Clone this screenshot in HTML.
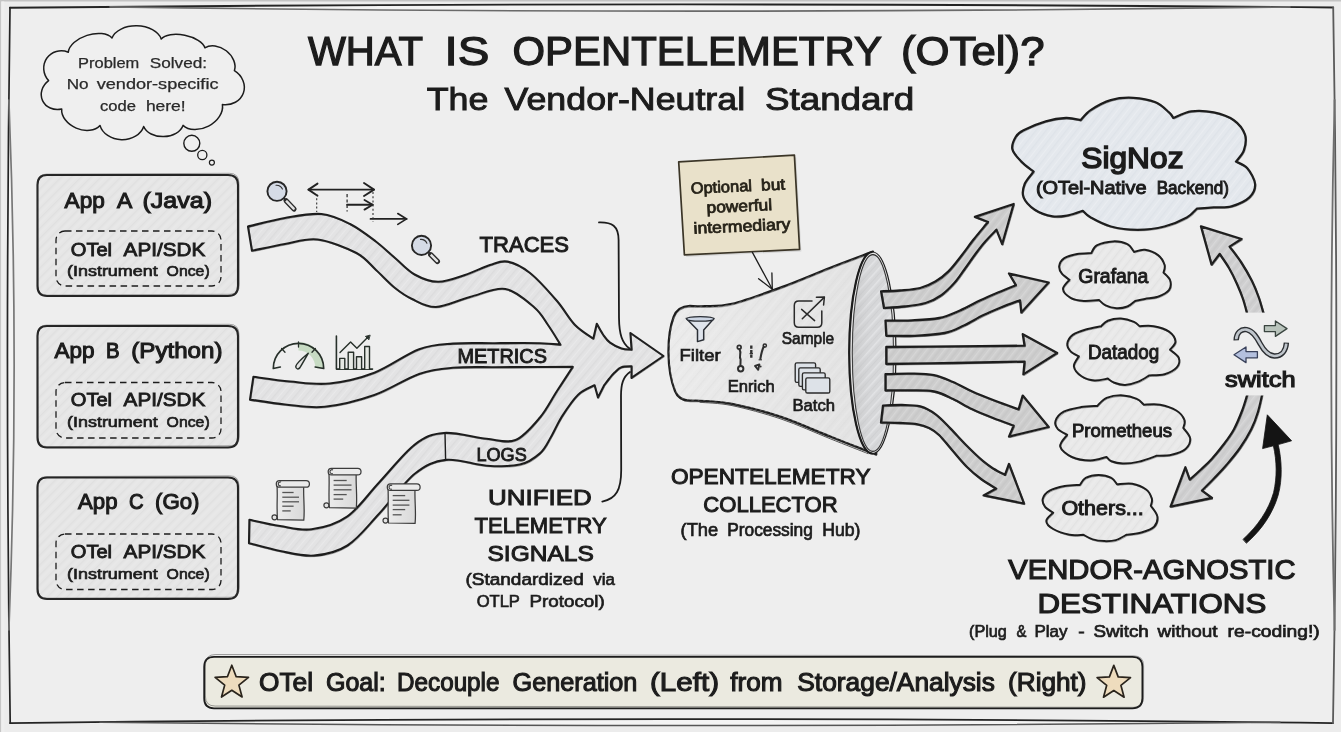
<!DOCTYPE html>
<html lang="en"><head><meta charset="utf-8"><title>What is OpenTelemetry (OTel)?</title>
<style>
html,body{margin:0;padding:0;background:#ececec;}
body{width:1341px;height:732px;overflow:hidden;}
svg{display:block;font-family:"Liberation Sans","DejaVu Sans",sans-serif;filter:blur(0.35px);}
</style></head><body>
<svg width="1341" height="732" viewBox="0 0 1341 732">
<defs>
<pattern id="hLight" width="7" height="7" patternUnits="userSpaceOnUse" patternTransform="rotate(-45)">
<rect width="7" height="7" fill="#e6e6e6"/><rect y="0" width="7" height="1.2" fill="#e0e0e0"/><rect y="3.6" width="7" height="0.9" fill="#ebebeb"/>
</pattern>
<pattern id="hRib" width="8" height="8" patternUnits="userSpaceOnUse" patternTransform="rotate(-50)">
<rect width="8" height="8" fill="#e3e3e4"/><rect y="0" width="8" height="1.4" fill="#dcdcdd"/><rect y="4" width="8" height="1" fill="#e9e9ea"/>
</pattern>
<linearGradient id="gHorn" x1="0" y1="0" x2="1" y2="0"><stop offset="0" stop-color="#ebebeb"/><stop offset="0.5" stop-color="#e6e6e6"/><stop offset="1" stop-color="#e2e2e2"/></linearGradient>
<pattern id="hHorn" width="9" height="9" patternUnits="userSpaceOnUse" patternTransform="rotate(-50)">
<rect y="0" width="9" height="1.2" fill="#d8d8d8" opacity="0.3"/><rect y="4.5" width="9" height="1" fill="#f2f2f2" opacity="0.45"/>
</pattern>
<pattern id="hMouth" width="8" height="8" patternUnits="userSpaceOnUse" patternTransform="rotate(-48)">
<rect width="8" height="8" fill="#d6d7d9"/><rect y="0" width="8" height="1.6" fill="#e3e4e6"/><rect y="4" width="8" height="1" fill="#cfd0d2"/>
</pattern>
<pattern id="hArr" width="7" height="7" patternUnits="userSpaceOnUse" patternTransform="rotate(-52)">
<rect width="7" height="7" fill="#cdcdcd"/><rect y="0" width="7" height="1.4" fill="#d6d6d6"/><rect y="3.5" width="7" height="1.1" fill="#c5c5c5"/>
</pattern>
<pattern id="hArr2" width="7" height="7" patternUnits="userSpaceOnUse" patternTransform="rotate(-52)">
<rect width="7" height="7" fill="#cfcfd0"/><rect y="0" width="7" height="1.4" fill="#d8d8d9"/><rect y="3.5" width="7" height="1.1" fill="#c7c7c8"/>
</pattern>
<pattern id="hSig" width="8" height="8" patternUnits="userSpaceOnUse" patternTransform="rotate(-52)">
<rect width="8" height="8" fill="#e4e8ed"/><rect y="0" width="8" height="1.3" fill="#dee3e9"/><rect y="4" width="8" height="1.1" fill="#eaedf1"/>
</pattern>
<pattern id="hCloud" width="7" height="7" patternUnits="userSpaceOnUse" patternTransform="rotate(-52)">
<rect width="7" height="7" fill="#e9e9e9"/><rect y="0" width="7" height="1.2" fill="#e2e2e2"/><rect y="3.5" width="7" height="1" fill="#eeeeee"/>
</pattern>
<linearGradient id="gScroll" x1="0" y1="0" x2="1" y2="0"><stop offset="0" stop-color="#ebebeb"/><stop offset="1" stop-color="#d9d9d9"/></linearGradient>
<linearGradient id="gMouth" x1="0" y1="0" x2="1" y2="0"><stop offset="0" stop-color="#a0a0a0" stop-opacity="0.3"/><stop offset="0.5" stop-color="#cfcfcf" stop-opacity="0"/><stop offset="1" stop-color="#ffffff" stop-opacity="0.2"/></linearGradient>
</defs>
<rect x="0" y="0" width="1341" height="732" fill="#ececec"/>
<rect x="0" y="0" width="1341" height="1.5" fill="#c4c4c4"/>
<rect x="0" y="0" width="1.3" height="732" fill="#c6c6c6"/>
<rect x="1.3" y="1.5" width="3" height="730.5" fill="#efefef"/>
<path d="M10 7.7Q670 1.2 1333.2 7.5Q1339.6 365 1333 723.1Q670 728 10.2 723.1Q4.8 365 10 7.7Z" fill="#eeeeee"/>
<path d="M10 7.7Q670 1.2 1333.2 7.5L1290 6.9Q698 15.4 110 6.9Z" fill="#f3f3f3"/>
<path d="M10 723.1Q670 715.1 1333 723.1L1280 722.2Q690 728.8 100 722.2Z" fill="#f3f3f3"/>
<path d="M10 7.7Q4.8 365 10.2 723.1L8.9 630Q19.4 365 8.9 100Z" fill="#f3f3f3"/>
<path d="M1333.2 7.5Q1339.6 365 1333 723.1L1334.6 630Q1328 365 1334.6 100Z" fill="#f5f5f5"/>
<path d="M10 7.7Q670 1.2 1333.2 7.5" fill="none" stroke="#242424" stroke-width="1.9" stroke-linejoin="round" stroke-linecap="round"/>
<path d="M110 6.9Q698 15.4 1290 6.9" fill="none" stroke="#6a6a6a" stroke-width="1.6" stroke-linejoin="round" stroke-linecap="round"/>
<path d="M10 723.1Q670 715.1 1333 723.1" fill="none" stroke="#242424" stroke-width="1.8" stroke-linejoin="round" stroke-linecap="round"/>
<path d="M100 722.2Q690 728.8 1280 722.2" fill="none" stroke="#555" stroke-width="1.5" stroke-linejoin="round" stroke-linecap="round"/>
<path d="M10 7.7Q4.8 365 10.2 723.1" fill="none" stroke="#242424" stroke-width="1.7" stroke-linejoin="round" stroke-linecap="round"/>
<path d="M8.9 100Q19.4 365 8.9 630" fill="none" stroke="#777" stroke-width="1.7" stroke-linejoin="round" stroke-linecap="round"/>
<path d="M1333.2 7.5Q1339.6 365 1333 723.1" fill="none" stroke="#5a5a5a" stroke-width="1.8" stroke-linejoin="round" stroke-linecap="round"/>
<path d="M1334.6 100Q1328 365 1334.6 630" fill="none" stroke="#6e6e6e" stroke-width="1.8" stroke-linejoin="round" stroke-linecap="round"/>
<path d="M47 175 H228 Q238 175 238 185 V286 Q238 296 228 296 H47 Q37.5 296 37.5 286 V185 Q37.5 175 47 175Z" fill="url(#hLight)" stroke="#242424" stroke-width="2.1" stroke-linejoin="round" stroke-linecap="round"/>
<path d="M46 175 H229 Q238.6 175 238.6 185 V286 Q238.6 296 229 296 H46 Q37 296 37 286 V185 Q37 175 46 175Z" fill="none" stroke="#333" stroke-width="0.8" opacity="0.5" transform="translate(0.6 -1.3) rotate(-0.25 137 235.5)" stroke-linejoin="round"/>
<rect x="56" y="231" width="165" height="55" rx="9" fill="none" stroke="#1c1c1c" stroke-width="1.3" stroke-dasharray="6.5 4.5"/>
<text y="207.5" font-size="22.5" font-weight="normal" fill="#1c1c1c" stroke="#1c1c1c" stroke-width="1.1"><tspan x="64.6" textLength="40.2" lengthAdjust="spacingAndGlyphs">App</tspan> <tspan x="117" textLength="14" lengthAdjust="spacingAndGlyphs">A</tspan> <tspan x="142.5" textLength="69.6" lengthAdjust="spacingAndGlyphs">(Java)</tspan></text>
<text y="255.5" font-size="19" font-weight="normal" fill="#1c1c1c" stroke="#1c1c1c" stroke-width="0.9"><tspan x="70.8" textLength="41.3" lengthAdjust="spacingAndGlyphs">OTel</tspan> <tspan x="123.6" textLength="81.6" lengthAdjust="spacingAndGlyphs">API/SDK</tspan></text>
<text y="275.8" font-size="15.5" font-weight="normal" fill="#1c1c1c" stroke="#1c1c1c" stroke-width="0.7"><tspan x="67" textLength="90.7" lengthAdjust="spacingAndGlyphs">(Instrument</tspan> <tspan x="166.6" textLength="43.1" lengthAdjust="spacingAndGlyphs">Once)</tspan></text>
<path d="M47 326 H228 Q238 326 238 336 V437.5 Q238 447.5 228 447.5 H47 Q37.5 447.5 37.5 437.5 V336 Q37.5 326 47 326Z" fill="url(#hLight)" stroke="#242424" stroke-width="2.1" stroke-linejoin="round" stroke-linecap="round"/>
<path d="M46 326 H229 Q238.6 326 238.6 336 V437.5 Q238.6 447.5 229 447.5 H46 Q37 447.5 37 437.5 V336 Q37 326 46 326Z" fill="none" stroke="#333" stroke-width="0.8" opacity="0.5" transform="translate(0.6 -1.3) rotate(-0.25 137 386.75)" stroke-linejoin="round"/>
<rect x="56" y="382.5" width="165" height="55.5" rx="9" fill="none" stroke="#1c1c1c" stroke-width="1.3" stroke-dasharray="6.5 4.5"/>
<text y="357.5" font-size="22.5" font-weight="normal" fill="#1c1c1c" stroke="#1c1c1c" stroke-width="1.1"><tspan x="54.5" textLength="40" lengthAdjust="spacingAndGlyphs">App</tspan> <tspan x="106" textLength="13.6" lengthAdjust="spacingAndGlyphs">B</tspan> <tspan x="131.3" textLength="91.2" lengthAdjust="spacingAndGlyphs">(Python)</tspan></text>
<text y="406" font-size="19" font-weight="normal" fill="#1c1c1c" stroke="#1c1c1c" stroke-width="0.9"><tspan x="70.8" textLength="41.3" lengthAdjust="spacingAndGlyphs">OTel</tspan> <tspan x="123.6" textLength="81.6" lengthAdjust="spacingAndGlyphs">API/SDK</tspan></text>
<text y="427" font-size="15.5" font-weight="normal" fill="#1c1c1c" stroke="#1c1c1c" stroke-width="0.7"><tspan x="67" textLength="90.7" lengthAdjust="spacingAndGlyphs">(Instrument</tspan> <tspan x="166.6" textLength="43.1" lengthAdjust="spacingAndGlyphs">Once)</tspan></text>
<path d="M47 477.5 H228 Q238 477.5 238 487.5 V589 Q238 599 228 599 H47 Q37.5 599 37.5 589 V487.5 Q37.5 477.5 47 477.5Z" fill="url(#hLight)" stroke="#242424" stroke-width="2.1" stroke-linejoin="round" stroke-linecap="round"/>
<path d="M46 477.5 H229 Q238.6 477.5 238.6 487.5 V589 Q238.6 599 229 599 H46 Q37 599 37 589 V487.5 Q37 477.5 46 477.5Z" fill="none" stroke="#333" stroke-width="0.8" opacity="0.5" transform="translate(0.6 -1.3) rotate(-0.25 137 538.25)" stroke-linejoin="round"/>
<rect x="56" y="534" width="165" height="55.5" rx="9" fill="none" stroke="#1c1c1c" stroke-width="1.3" stroke-dasharray="6.5 4.5"/>
<text y="509" font-size="22.5" font-weight="normal" fill="#1c1c1c" stroke="#1c1c1c" stroke-width="1.1"><tspan x="78" textLength="39.5" lengthAdjust="spacingAndGlyphs">App</tspan> <tspan x="129" textLength="14.6" lengthAdjust="spacingAndGlyphs">C</tspan> <tspan x="155" textLength="44.5" lengthAdjust="spacingAndGlyphs">(Go)</tspan></text>
<text y="558" font-size="19" font-weight="normal" fill="#1c1c1c" stroke="#1c1c1c" stroke-width="0.9"><tspan x="70.8" textLength="41.3" lengthAdjust="spacingAndGlyphs">OTel</tspan> <tspan x="123.6" textLength="81.6" lengthAdjust="spacingAndGlyphs">API/SDK</tspan></text>
<text y="579" font-size="15.5" font-weight="normal" fill="#1c1c1c" stroke="#1c1c1c" stroke-width="0.7"><tspan x="67" textLength="90.7" lengthAdjust="spacingAndGlyphs">(Instrument</tspan> <tspan x="166.6" textLength="43.1" lengthAdjust="spacingAndGlyphs">Once)</tspan></text>
<path d="M68.3 52.2A23.7 13.6 -18 0 1 112 38A25.3 16.5 1.3 0 1 161.2 39A23 11.1 11.3 0 1 204.9 47.8A19.3 14.4 37.9 0 1 234.4 70.7A18.5 20.8 109.5 0 1 222.4 104.6A22.9 16.3 152.2 0 1 183 125.4A20.3 14.2 178.4 0 1 143.7 126.5A22.5 18 -178.6 0 1 100 125.4A21.4 15.4 -156.8 0 1 61.7 109A16.1 18.2 -114.8 0 1 48.6 80.6A17.8 18.7 -55.3 0 1 68.3 52.2Z" fill="#efefef" stroke="#1c1c1c" stroke-width="1.5" stroke-linejoin="round" stroke-linecap="round"/>
<circle cx="191.8" cy="143.3" r="8" fill="#efefef" stroke="#1c1c1c" stroke-width="1.4"/>
<circle cx="202.3" cy="155" r="4.6" fill="#efefef" stroke="#1c1c1c" stroke-width="1.3"/>
<circle cx="211.9" cy="162.6" r="2.5" fill="#efefef" stroke="#1c1c1c" stroke-width="1.2"/>
<text y="67.5" font-size="14" font-weight="normal" fill="#2a2a2a" stroke="#2a2a2a" stroke-width="0.25"><tspan x="78.1" textLength="61.2" lengthAdjust="spacingAndGlyphs">Problem</tspan> <tspan x="149.8" textLength="57.3" lengthAdjust="spacingAndGlyphs">Solved:</tspan></text>
<text y="89.3" font-size="14" font-weight="normal" fill="#2a2a2a" stroke="#2a2a2a" stroke-width="0.25"><tspan x="66.7" textLength="21.9" lengthAdjust="spacingAndGlyphs">No</tspan> <tspan x="96.7" textLength="121.8" lengthAdjust="spacingAndGlyphs">vendor-specific</tspan></text>
<text y="111.2" font-size="14" font-weight="normal" fill="#2a2a2a" stroke="#2a2a2a" stroke-width="0.25"><tspan x="100" textLength="36" lengthAdjust="spacingAndGlyphs">code</tspan> <tspan x="145.9" textLength="39.8" lengthAdjust="spacingAndGlyphs">here!</tspan></text>
<text y="65.2" font-size="41" font-weight="normal" fill="#1c1c1c" stroke="#1c1c1c" stroke-width="1.25"><tspan x="307.9" textLength="114.5" lengthAdjust="spacingAndGlyphs">WHAT</tspan> <tspan x="444.5" textLength="44.8" lengthAdjust="spacingAndGlyphs">IS</tspan> <tspan x="512.5" textLength="368.6" lengthAdjust="spacingAndGlyphs">OPENTELEMETRY</tspan> <tspan x="901" textLength="143.5" lengthAdjust="spacingAndGlyphs">(OTel)?</tspan></text>
<text y="110" font-size="32" font-weight="normal" fill="#1c1c1c" stroke="#1c1c1c" stroke-width="0.95"><tspan x="426.7" textLength="61.7" lengthAdjust="spacingAndGlyphs">The</tspan> <tspan x="504.6" textLength="240.5" lengthAdjust="spacingAndGlyphs">Vendor-Neutral</tspan> <tspan x="764.9" textLength="149.4" lengthAdjust="spacingAndGlyphs">Standard</tspan></text>
<path d="M599 222.4C612 222 618.5 226 618.6 240L619 318C619.2 334 622 343 629.5 348.5" fill="none" stroke="#1c1c1c" stroke-width="1.8" stroke-linejoin="round" stroke-linecap="round"/>
<path d="M630 372C623 377 621 384 621 396L621.2 470C621.2 490 616 499 602.3 501.6" fill="none" stroke="#1c1c1c" stroke-width="1.8" stroke-linejoin="round" stroke-linecap="round"/>
<path d="M248 226.5C254.2 225.1 272.8 220.1 285 218C297.2 215.9 310.7 213 321.5 214C332.3 215 340.9 219.4 350 224C359.1 228.6 368.3 235.8 375.8 241.5C383.3 247.2 388.5 252.5 395 258C401.5 263.5 407.4 270.5 414.6 274.5C421.8 278.5 429.6 281.7 438 281.8C446.4 281.9 456.3 277.8 465 275C473.7 272.2 482.9 267.2 490 265C497.1 262.8 500.8 260.3 507.5 261.6C514.2 262.9 521.8 266.5 530 273C538.2 279.5 549.3 292.1 556.8 300.8C564.3 309.5 568.9 318.7 575 325C581.1 331.3 590.2 336.4 593.3 338.7L596.8 323.7L596.8 323.7C597.8 325.5 600.8 331.4 603 334.5C605.2 337.6 606.9 340.3 610 342.6C613.1 344.9 617.9 347.2 621.5 348.4C625.1 349.6 629.9 349.4 631.6 349.6L630.4 333L663.5 356L631.5 377.8L631.6 366.3C629.9 366.4 624.3 366.1 621.5 367.2C618.7 368.2 616.7 370.6 614.6 372.6C612.5 374.6 610.7 376.9 609 379C607.3 381.1 605 384.2 604.2 385.2L598 397.5L594.6 385.2C591.9 386.8 583.7 389.5 578.2 394.7C572.8 399.9 566.4 409.6 561.9 416.6C557.4 423.7 554.6 430.9 551 437C547.4 443.1 545.2 448.8 540 453.4C534.8 458 528.9 462.6 520 464.6C511.1 466.7 498.8 466.5 486.5 465.7C474.2 464.9 457.9 458.5 446 459.9C434.1 461.2 426 464.8 414.8 473.8C403.6 482.8 390.1 502.1 378.9 514C367.7 526 358.3 538.6 347.5 545.5C336.7 552.4 325.2 554.7 314 555.6C302.8 556.5 290.8 553.1 280 551C269.2 548.9 254.2 544.5 249 543.2L249.4 519.7C254.5 520.8 269.6 524.4 280 526C290.4 527.6 300.4 530.9 311.7 529.3C322.9 527.7 336.3 524.1 347.5 516.3C358.7 508.5 367.7 494.6 378.9 482.7C390.1 470.8 404 452.9 414.8 444.6C425.6 436.3 431.9 434 443.9 433C455.8 432 474.6 437.6 486.5 438.8C498.4 440 506.7 443.6 515.6 440C524.5 436.4 533.1 425.7 540 417.5C546.9 409.3 551.5 399.4 557 391C562.5 382.6 570.2 370.9 572.8 366.9L572.8 366.9C567.3 366.9 553 366.9 540 367C527 367.1 509.5 367.1 495 367.2C480.5 367.3 465.5 366.7 452.9 367.8C440.3 368.9 432.3 369.4 419.2 373.9C406.1 378.4 390.1 389.5 374.4 395C358.7 400.5 339.9 405.2 325 406.8C310.1 408.4 297.5 405.7 285 404.5C272.5 403.3 255.8 400.4 250 399.6L253.4 376.8C259.5 377.6 277.3 380.4 290 381.5C302.7 382.6 315.5 385 329.6 383.5C343.7 382 359.5 378.4 374.4 372.7C389.3 367 406.1 354 419.2 349.2C432.3 344.4 440.3 344.6 452.9 343.6C465.5 342.6 480.5 343.3 495 343.2C509.5 343.1 529.1 342.9 540 343.2C550.9 343.4 557.1 344.4 560.5 344.7L560.5 344.7C558.4 341.4 552.4 331.2 548 325C543.6 318.8 541.5 313.5 534.4 307.5C527.3 301.5 516 290.8 505.3 289C494.6 287.2 481.6 294 470 297C458.4 300 445.5 306.7 435.8 307C426.1 307.3 418.8 302.2 412 299C405.2 295.8 401 292.8 395 288C389 283.2 382.4 275.8 376 270C369.6 264.2 366.1 258.1 356.4 253C346.7 247.9 329.5 241 317.6 239.5C305.7 238 295.9 242.1 285 244C274.1 245.9 257.5 249.7 252 250.8Z" fill="url(#hRib)" stroke="#1c1c1c" stroke-width="2.1" stroke-linejoin="round" stroke-linecap="round"/>
<path d="M248 226.5C254.2 225.1 272.8 220.1 285 218C297.2 215.9 310.7 213 321.5 214C332.3 215 340.9 219.4 350 224C359.1 228.6 368.3 235.8 375.8 241.5C383.3 247.2 388.5 252.5 395 258C401.5 263.5 407.4 270.5 414.6 274.5C421.8 278.5 429.6 281.7 438 281.8C446.4 281.9 456.3 277.8 465 275C473.7 272.2 482.9 267.2 490 265C497.1 262.8 500.8 260.3 507.5 261.6C514.2 262.9 521.8 266.5 530 273C538.2 279.5 549.3 292.1 556.8 300.8C564.3 309.5 568.9 318.7 575 325C581.1 331.3 590.2 336.4 593.3 338.7L596.8 323.7L596.8 323.7C597.8 325.5 600.8 331.4 603 334.5C605.2 337.6 606.9 340.3 610 342.6C613.1 344.9 617.9 347.2 621.5 348.4C625.1 349.6 629.9 349.4 631.6 349.6L630.4 333L663.5 356L631.5 377.8L631.6 366.3C629.9 366.4 624.3 366.1 621.5 367.2C618.7 368.2 616.7 370.6 614.6 372.6C612.5 374.6 610.7 376.9 609 379C607.3 381.1 605 384.2 604.2 385.2L598 397.5L594.6 385.2C591.9 386.8 583.7 389.5 578.2 394.7C572.8 399.9 566.4 409.6 561.9 416.6C557.4 423.7 554.6 430.9 551 437C547.4 443.1 545.2 448.8 540 453.4C534.8 458 528.9 462.6 520 464.6C511.1 466.7 498.8 466.5 486.5 465.7C474.2 464.9 457.9 458.5 446 459.9C434.1 461.2 426 464.8 414.8 473.8C403.6 482.8 390.1 502.1 378.9 514C367.7 526 358.3 538.6 347.5 545.5C336.7 552.4 325.2 554.7 314 555.6C302.8 556.5 290.8 553.1 280 551C269.2 548.9 254.2 544.5 249 543.2L249.4 519.7C254.5 520.8 269.6 524.4 280 526C290.4 527.6 300.4 530.9 311.7 529.3C322.9 527.7 336.3 524.1 347.5 516.3C358.7 508.5 367.7 494.6 378.9 482.7C390.1 470.8 404 452.9 414.8 444.6C425.6 436.3 431.9 434 443.9 433C455.8 432 474.6 437.6 486.5 438.8C498.4 440 506.7 443.6 515.6 440C524.5 436.4 533.1 425.7 540 417.5C546.9 409.3 551.5 399.4 557 391C562.5 382.6 570.2 370.9 572.8 366.9L572.8 366.9C567.3 366.9 553 366.9 540 367C527 367.1 509.5 367.1 495 367.2C480.5 367.3 465.5 366.7 452.9 367.8C440.3 368.9 432.3 369.4 419.2 373.9C406.1 378.4 390.1 389.5 374.4 395C358.7 400.5 339.9 405.2 325 406.8C310.1 408.4 297.5 405.7 285 404.5C272.5 403.3 255.8 400.4 250 399.6L253.4 376.8C259.5 377.6 277.3 380.4 290 381.5C302.7 382.6 315.5 385 329.6 383.5C343.7 382 359.5 378.4 374.4 372.7C389.3 367 406.1 354 419.2 349.2C432.3 344.4 440.3 344.6 452.9 343.6C465.5 342.6 480.5 343.3 495 343.2C509.5 343.1 529.1 342.9 540 343.2C550.9 343.4 557.1 344.4 560.5 344.7L560.5 344.7C558.4 341.4 552.4 331.2 548 325C543.6 318.8 541.5 313.5 534.4 307.5C527.3 301.5 516 290.8 505.3 289C494.6 287.2 481.6 294 470 297C458.4 300 445.5 306.7 435.8 307C426.1 307.3 418.8 302.2 412 299C405.2 295.8 401 292.8 395 288C389 283.2 382.4 275.8 376 270C369.6 264.2 366.1 258.1 356.4 253C346.7 247.9 329.5 241 317.6 239.5C305.7 238 295.9 242.1 285 244C274.1 245.9 257.5 249.7 252 250.8Z" fill="none" stroke="#333" stroke-width="0.8" opacity="0.5" transform="translate(0.7 1.0)" stroke-linejoin="round"/>
<path d="M445 432.8L445.6 459.7" fill="none" stroke="#1c1c1c" stroke-width="1.4" stroke-linejoin="round" stroke-linecap="round"/>
<text x="479.5" y="252" font-size="22.5" font-weight="normal" textLength="89.5" lengthAdjust="spacingAndGlyphs" fill="#1c1c1c" stroke="#1c1c1c" stroke-width="1.0">TRACES</text>
<text x="457.5" y="362.7" font-size="19.5" font-weight="normal" textLength="89.5" lengthAdjust="spacingAndGlyphs" fill="#1c1c1c" stroke="#1c1c1c" stroke-width="0.9">METRICS</text>
<text x="476.4" y="460.6" font-size="19" font-weight="normal" textLength="50.4" lengthAdjust="spacingAndGlyphs" fill="#1c1c1c" stroke="#1c1c1c" stroke-width="0.9">LOGS</text>
<text x="488" y="505.2" font-size="22" font-weight="normal" textLength="103.8" lengthAdjust="spacingAndGlyphs" fill="#1c1c1c" stroke="#1c1c1c" stroke-width="0.95">UNIFIED</text>
<text x="474.6" y="533" font-size="22" font-weight="normal" textLength="132.2" lengthAdjust="spacingAndGlyphs" fill="#1c1c1c" stroke="#1c1c1c" stroke-width="0.95">TELEMETRY</text>
<text x="487.5" y="560.8" font-size="22" font-weight="normal" textLength="106.4" lengthAdjust="spacingAndGlyphs" fill="#1c1c1c" stroke="#1c1c1c" stroke-width="0.95">SIGNALS</text>
<text y="584.9" font-size="16" font-weight="normal" fill="#1c1c1c" stroke="#1c1c1c" stroke-width="0.65"><tspan x="465.5" textLength="118.2" lengthAdjust="spacingAndGlyphs">(Standardized</tspan> <tspan x="593.3" textLength="21.6" lengthAdjust="spacingAndGlyphs">via</tspan></text>
<text y="606.8" font-size="16" font-weight="normal" fill="#1c1c1c" stroke="#1c1c1c" stroke-width="0.65"><tspan x="476.7" textLength="42.9" lengthAdjust="spacingAndGlyphs">OTLP</tspan> <tspan x="529.6" textLength="75.1" lengthAdjust="spacingAndGlyphs">Protocol)</tspan></text>
<line x1="286.1" y1="200.7" x2="294" y2="209" stroke="#2b2b2b" stroke-width="5.2" stroke-linecap="round"/>
<line x1="286.5" y1="201.2" x2="293.7" y2="208.7" stroke="#e3e3e3" stroke-width="2.4" stroke-linecap="round"/>
<line x1="283.7" y1="198.2" x2="286.1" y2="200.7" stroke="#2b2b2b" stroke-width="1.8"/>
<circle cx="277" cy="191.3" r="9.6" fill="#d5dbe6" stroke="#262626" stroke-width="1.9"/>
<path d="M276 185.3A6.6 6.6 0 0 1 282.4 189.1" fill="none" stroke="#333" stroke-width="1.1" stroke-linejoin="round" stroke-linecap="round"/>
<line x1="430.7" y1="254.7" x2="437.4" y2="261.4" stroke="#2b2b2b" stroke-width="5.2" stroke-linecap="round"/>
<line x1="431.2" y1="255.1" x2="437.1" y2="261.1" stroke="#e3e3e3" stroke-width="2.4" stroke-linecap="round"/>
<line x1="428.3" y1="252.2" x2="430.7" y2="254.7" stroke="#2b2b2b" stroke-width="1.8"/>
<circle cx="421.5" cy="245.4" r="9.6" fill="#d5dbe6" stroke="#262626" stroke-width="1.9"/>
<path d="M420.5 239.4A6.6 6.6 0 0 1 426.9 243.2" fill="none" stroke="#333" stroke-width="1.1" stroke-linejoin="round" stroke-linecap="round"/>
<path d="M308.5 189.6H374" fill="none" stroke="#222" stroke-width="1.9" stroke-linejoin="round" stroke-linecap="round"/>
<path d="M317.5 183.6L308.5 189.6L317.5 195.8" fill="none" stroke="#222" stroke-width="1.9" stroke-linejoin="round" stroke-linecap="round"/>
<path d="M364 183L374 189.6L364 196" fill="none" stroke="#222" stroke-width="1.9" stroke-linejoin="round" stroke-linecap="round"/>
<path d="M347.1 204.7H372.6" fill="none" stroke="#222" stroke-width="1.9" stroke-linejoin="round" stroke-linecap="round"/>
<path d="M364.5 200L372.6 204.7L364.5 209.6" fill="none" stroke="#222" stroke-width="1.9" stroke-linejoin="round" stroke-linecap="round"/>
<path d="M370.5 218.9H406.6" fill="none" stroke="#222" stroke-width="1.7" stroke-linejoin="round" stroke-linecap="round"/>
<path d="M397.8 213.6L406.6 218.9L397.8 224.4" fill="none" stroke="#222" stroke-width="1.7" stroke-linejoin="round" stroke-linecap="round"/>
<path d="M316.7 194V212M373 192V222" stroke="#333" stroke-width="1.1" stroke-dasharray="2 2.2" fill="none"/>
<path d="M347.1 194V211.5" stroke="#333" stroke-width="1.3" stroke-dasharray="3.2 2.2" fill="none"/>
<path d="M298.5 342A25.2 25.2 0 0 1 323.7 368.5L315.2 368.1A16.7 16.7 0 0 0 298.5 350.5Z" fill="#bdd6b8" opacity="0.8"/>
<path d="M280.3 367L273.3 368.5A25.2 25.2 0 0 1 323.7 368.5L315.2 367" fill="none" stroke="#27302a" stroke-width="1.7" stroke-linejoin="round" stroke-linecap="round"/>
<path d="M298.5 342L298.5 347" fill="none" stroke="#27302a" stroke-width="1.3" stroke-linejoin="round" stroke-linecap="round"/>
<path d="M281.6 348.5L285 352.2" fill="none" stroke="#27302a" stroke-width="1.3" stroke-linejoin="round" stroke-linecap="round"/>
<path d="M315.4 348.5L312 352.2" fill="none" stroke="#27302a" stroke-width="1.3" stroke-linejoin="round" stroke-linecap="round"/>
<path d="M308.2 353.3C305 359 302 364 300 367.5C298.6 369.8 295.6 369.2 295.8 366.4C296 364 302 358.5 308.2 353.3Z" fill="#e4e4e4" stroke="#27302a" stroke-width="1.5" stroke-linejoin="round" stroke-linecap="round"/>
<path d="M336.4 336.1V369.1H372.5" fill="none" stroke="#27302a" stroke-width="1.6" stroke-linejoin="round" stroke-linecap="round"/>
<path d="M339.7 369.1V358.4H344.8V369.1" fill="#e6e9e4" stroke="#27302a" stroke-width="1.4" stroke-linejoin="round" stroke-linecap="round"/>
<path d="M348.2 369.1V352.3H353.6V369.1" fill="#e6e9e4" stroke="#27302a" stroke-width="1.4" stroke-linejoin="round" stroke-linecap="round"/>
<path d="M356.5 369.1V356.8H361.6V369.1" fill="#e6e9e4" stroke="#27302a" stroke-width="1.4" stroke-linejoin="round" stroke-linecap="round"/>
<path d="M364.7 369.1V346.5H369.5V369.1" fill="#e6e9e4" stroke="#27302a" stroke-width="1.4" stroke-linejoin="round" stroke-linecap="round"/>
<path d="M340 352.6L350.6 342L356.9 348.3L368 337" fill="none" stroke="#27302a" stroke-width="1.4" stroke-linejoin="round" stroke-linecap="round"/>
<path d="M369.8 335.2L365.4 336.4L368.6 339.6Z" fill="#27302a" stroke="#27302a" stroke-width="0.9" stroke-linejoin="round" stroke-linecap="round"/>
<circle cx="274.5" cy="517.3" r="2.5" fill="#e4e4e4" stroke="#3c3c3c" stroke-width="1.2"/>
<path d="M276.9 483.5C277.9 494.5 276.4 505.7 277.5 519.7L303.8 520.1C305 507.7 303 496.5 303.8 483.5Z" fill="url(#gScroll)" stroke="#3c3c3c" stroke-width="1.25" stroke-linejoin="round" stroke-linecap="round"/>
<rect x="276.3" y="480.5" width="33.1" height="6.7" rx="3.3" fill="#eaeaea" stroke="#3c3c3c" stroke-width="1.25"/>
<path d="M281.1 482.1A2 2 0 1 0 280.9 485.8" fill="none" stroke="#3c3c3c" stroke-width="1.1"/>
<line x1="282.3" y1="492.5" x2="293.6" y2="492.5" stroke="#555" stroke-width="1.3"/>
<line x1="282.3" y1="497.2" x2="299" y2="497.2" stroke="#555" stroke-width="1.3"/>
<line x1="282.3" y1="501.8" x2="299" y2="501.8" stroke="#555" stroke-width="1.3"/>
<line x1="282.3" y1="506.2" x2="293.6" y2="506.2" stroke="#555" stroke-width="1.3"/>
<line x1="282.3" y1="510.9" x2="290.7" y2="510.9" stroke="#555" stroke-width="1.3"/>
<circle cx="326.4" cy="505.3" r="2.5" fill="#e4e4e4" stroke="#3c3c3c" stroke-width="1.2"/>
<path d="M328.8 471.4C329.8 482.4 328.3 493.7 329.4 507.7L356.3 508.1C357.5 495.7 355.5 484.4 356.3 471.4Z" fill="url(#gScroll)" stroke="#3c3c3c" stroke-width="1.25" stroke-linejoin="round" stroke-linecap="round"/>
<rect x="328.2" y="468.4" width="32.8" height="6.5" rx="3.2" fill="#eaeaea" stroke="#3c3c3c" stroke-width="1.25"/>
<path d="M333 470A2 2 0 1 0 332.8 473.5" fill="none" stroke="#3c3c3c" stroke-width="1.1"/>
<line x1="333.6" y1="480.5" x2="346.7" y2="480.5" stroke="#555" stroke-width="1.3"/>
<line x1="333.6" y1="485.1" x2="351.5" y2="485.1" stroke="#555" stroke-width="1.3"/>
<line x1="333.6" y1="489.8" x2="351.5" y2="489.8" stroke="#555" stroke-width="1.3"/>
<line x1="333.6" y1="494.6" x2="346.7" y2="494.6" stroke="#555" stroke-width="1.3"/>
<line x1="333.6" y1="499.1" x2="343.2" y2="499.1" stroke="#555" stroke-width="1.3"/>
<circle cx="385.5" cy="520.6" r="2.5" fill="#e4e4e4" stroke="#3c3c3c" stroke-width="1.2"/>
<path d="M387.9 486.9C388.9 497.9 387.4 509 388.5 523L415.1 523.4C416.3 511 414.3 499.9 415.1 486.9Z" fill="url(#gScroll)" stroke="#3c3c3c" stroke-width="1.25" stroke-linejoin="round" stroke-linecap="round"/>
<rect x="387.3" y="483.9" width="32.8" height="6.5" rx="3.2" fill="#eaeaea" stroke="#3c3c3c" stroke-width="1.25"/>
<path d="M392.1 485.5A2 2 0 1 0 391.9 489" fill="none" stroke="#3c3c3c" stroke-width="1.1"/>
<line x1="392.7" y1="495.6" x2="405.2" y2="495.6" stroke="#555" stroke-width="1.3"/>
<line x1="392.7" y1="500.3" x2="409.4" y2="500.3" stroke="#555" stroke-width="1.3"/>
<line x1="392.7" y1="505.1" x2="409.4" y2="505.1" stroke="#555" stroke-width="1.3"/>
<line x1="392.7" y1="509.6" x2="405.2" y2="509.6" stroke="#555" stroke-width="1.3"/>
<line x1="392.7" y1="514.8" x2="401.6" y2="514.8" stroke="#555" stroke-width="1.3"/>
<path d="M680.5 164L796.2 157.2L801.4 251.4L686.2 257Z" fill="#000" opacity="0.10"/>
<path d="M678.7 161.9L794.4 155.1L799.6 249.4L684.4 254.9Z" fill="#e9e1ca" stroke="#3b3527" stroke-width="1.7" stroke-linejoin="round" stroke-linecap="round"/>
<g transform="rotate(-2.6 740 205)">
<text y="191.6" font-size="16" font-weight="normal" fill="#262218" stroke="#262218" stroke-width="0.75"><tspan x="691.5" textLength="61.3" lengthAdjust="spacingAndGlyphs">Optional</tspan> <tspan x="762" textLength="24" lengthAdjust="spacingAndGlyphs">but</tspan></text>
<text x="706.5" y="211.5" font-size="16" font-weight="normal" textLength="65.5" lengthAdjust="spacingAndGlyphs" fill="#262218" stroke="#262218" stroke-width="0.75">powerful</text>
<text x="692.5" y="231.6" font-size="16" font-weight="normal" textLength="97" lengthAdjust="spacingAndGlyphs" fill="#262218" stroke="#262218" stroke-width="0.75">intermediary</text>
</g>
<path d="M752.4 252.4L772.3 289.3" fill="none" stroke="#1c1c1c" stroke-width="1.3" stroke-linejoin="round" stroke-linecap="round"/>
<path d="M758.6 278.7L772.3 289.3L771.9 272.9" fill="none" stroke="#1c1c1c" stroke-width="1.3" stroke-linejoin="round" stroke-linecap="round"/>
<path d="M690 305.9C692.5 305.9 698 306.5 705 306.2C712 305.9 719.3 306.9 732 303.8C744.7 300.7 764.6 293.4 781 287.4C797.4 281.4 815 273.7 830.3 267.7C845.6 261.7 865.9 254.3 873 251.6L876.2 454.4C868.6 451.4 846.2 442.9 830.3 436.6C814.4 430.4 797.4 422.4 781 416.9C764.6 411.4 744.7 406.4 732 403.8C719.3 401.2 712 401.5 705 401C698 400.5 692.5 400.8 690 400.7Q678.5 400.4 675 391C666.5 370 666.5 336 673.6 317Q677.4 306.4 690 305.9Z" fill="url(#gHorn)" stroke="#1c1c1c" stroke-width="2.2" stroke-linejoin="round" stroke-linecap="round"/>
<path d="M690 305.9C692.5 305.9 698 306.5 705 306.2C712 305.9 719.3 306.9 732 303.8C744.7 300.7 764.6 293.4 781 287.4C797.4 281.4 815 273.7 830.3 267.7C845.6 261.7 865.9 254.3 873 251.6L876.2 454.4C868.6 451.4 846.2 442.9 830.3 436.6C814.4 430.4 797.4 422.4 781 416.9C764.6 411.4 744.7 406.4 732 403.8C719.3 401.2 712 401.5 705 401C698 400.5 692.5 400.8 690 400.7Q678.5 400.4 675 391C666.5 370 666.5 336 673.6 317Q677.4 306.4 690 305.9Z" fill="url(#hHorn)" stroke="none" stroke-width="0" stroke-linejoin="round" stroke-linecap="round"/>
<path d="M690 305.9C692.5 305.9 698 306.5 705 306.2C712 305.9 719.3 306.9 732 303.8C744.7 300.7 764.6 293.4 781 287.4C797.4 281.4 815 273.7 830.3 267.7C845.6 261.7 865.9 254.3 873 251.6L876.2 454.4C868.6 451.4 846.2 442.9 830.3 436.6C814.4 430.4 797.4 422.4 781 416.9C764.6 411.4 744.7 406.4 732 403.8C719.3 401.2 712 401.5 705 401C698 400.5 692.5 400.8 690 400.7Q678.5 400.4 675 391C666.5 370 666.5 336 673.6 317Q677.4 306.4 690 305.9Z" fill="none" stroke="#333" stroke-width="0.8" opacity="0.5" transform="translate(0.5 1.2)" stroke-linejoin="round"/>
<path d="M700 402.3C705.3 402.9 718.5 402.8 732 405.6C745.5 408.4 764.6 413.5 781 419C797.4 424.5 815.8 433 830.3 438.8C844.8 444.6 861.7 451.1 868 453.6" fill="none" stroke="#444" stroke-width="0.9" stroke-linejoin="round" stroke-linecap="round"/>
<ellipse cx="872.6" cy="352.8" rx="23.4" ry="100.8" fill="#e6e6e6" stroke="#1c1c1c" stroke-width="1.2"/>
<path d="M872.6 252A23.4 100.8 0 0 0 872.6 453.6" fill="none" stroke="#1c1c1c" stroke-width="2.2"/>
<ellipse cx="872.9" cy="353" rx="20.6" ry="98.4" fill="url(#hMouth)" stroke="#2b2b2b" stroke-width="1.1"/>
<ellipse cx="872.9" cy="353" rx="20.6" ry="98.4" fill="url(#gMouth)"/>
<path d="M686.3 318.4H714L703.7 330V339.8L697.5 341.6V330Z" fill="#dfe4ec" stroke="#2b2f36" stroke-width="1.5" stroke-linejoin="round" stroke-linecap="round"/>
<ellipse cx="700.2" cy="318.9" rx="13.6" ry="2.3" fill="#cdd6e4" stroke="#2b2f36" stroke-width="1.2"/>
<text x="679.6" y="360.7" font-size="17" font-weight="normal" textLength="41" lengthAdjust="spacingAndGlyphs" fill="#1c1c1c" stroke="#1c1c1c" stroke-width="0.7">Filter</text>
<circle cx="739.2" cy="347.2" r="1.9" fill="none" stroke="#2f2f2f" stroke-width="1.7"/>
<path d="M739.6 349.6C741.8 353 738.6 356.4 740.6 359.4L740.4 365.6" fill="none" stroke="#2f2f2f" stroke-width="2.0" stroke-linejoin="round" stroke-linecap="round"/>
<circle cx="740.7" cy="368.8" r="2.7" fill="none" stroke="#2f2f2f" stroke-width="2"/>
<path d="M751.3 345.5V358.6" stroke="#2f2f2f" stroke-width="2.4" stroke-dasharray="3.2 1.3" fill="none"/>
<path d="M749.6 353.6H753" stroke="#2f2f2f" stroke-width="1.1" fill="none"/>
<path d="M763.8 346.6C762 350 761.4 353 760.4 358.6" fill="none" stroke="#2f2f2f" stroke-width="2.1" stroke-linejoin="round" stroke-linecap="round"/>
<circle cx="764.8" cy="345.6" r="1.6" fill="none" stroke="#2f2f2f" stroke-width="1.5"/>
<path d="M758.6 359.8H762" stroke="#2f2f2f" stroke-width="1.1" fill="none"/>
<path d="M755 366L759.4 364.4L758.2 369.8Z" fill="none" stroke="#2f2f2f" stroke-width="1.9" stroke-linejoin="round" stroke-linecap="round"/>
<circle cx="760.6" cy="366.6" r="1" fill="#2f2f2f"/>
<text x="727.7" y="392" font-size="17" font-weight="normal" textLength="47" lengthAdjust="spacingAndGlyphs" fill="#1c1c1c" stroke="#1c1c1c" stroke-width="0.7">Enrich</text>
<path d="M812 301H798.8Q794.3 301 794.3 305.5V322.8Q794.3 327.3 798.8 327.3H817.3Q821.8 327.3 821.8 322.8V311" fill="none" stroke="#2a2a2a" stroke-width="1.5" stroke-linejoin="round" stroke-linecap="round"/>
<path d="M801.6 309.4L814.6 320.6" fill="none" stroke="#2a2a2a" stroke-width="1.5" stroke-linejoin="round" stroke-linecap="round"/>
<path d="M802.3 318.8L824.2 297.4" fill="none" stroke="#2a2a2a" stroke-width="1.5" stroke-linejoin="round" stroke-linecap="round"/>
<path d="M816.4 297.2L824.4 297L823.6 305" fill="none" stroke="#2a2a2a" stroke-width="1.5" stroke-linejoin="round" stroke-linecap="round"/>
<text x="781.8" y="344.2" font-size="17" font-weight="normal" textLength="52.4" lengthAdjust="spacingAndGlyphs" fill="#1c1c1c" stroke="#1c1c1c" stroke-width="0.7">Sample</text>
<rect x="795.2" y="362.8" width="20.4" height="19.5" rx="1.6" fill="#dde2e8" stroke="#2a2a2a" stroke-width="1.35"/>
<rect x="798.8" y="367.8" width="21.4" height="18.5" rx="1.6" fill="#dde2e8" stroke="#2a2a2a" stroke-width="1.35"/>
<rect x="802.4" y="372.8" width="22.8" height="17" rx="1.6" fill="#dde2e8" stroke="#2a2a2a" stroke-width="1.35"/>
<rect x="805.8" y="377.9" width="24" height="15.1" rx="1.6" fill="#dde2e8" stroke="#2a2a2a" stroke-width="1.35"/>
<text x="792.5" y="410.7" font-size="17" font-weight="normal" textLength="42.6" lengthAdjust="spacingAndGlyphs" fill="#1c1c1c" stroke="#1c1c1c" stroke-width="0.7">Batch</text>
<text x="670.9" y="483.6" font-size="21.5" font-weight="normal" textLength="199.7" lengthAdjust="spacingAndGlyphs" fill="#1c1c1c" stroke="#1c1c1c" stroke-width="1.0">OPENTELEMETRY</text>
<text x="703.3" y="512.1" font-size="21.5" font-weight="normal" textLength="134.4" lengthAdjust="spacingAndGlyphs" fill="#1c1c1c" stroke="#1c1c1c" stroke-width="1.0">COLLECTOR</text>
<text y="536" font-size="17.5" font-weight="normal" fill="#1c1c1c" stroke="#1c1c1c" stroke-width="0.7"><tspan x="680.6" textLength="37.6" lengthAdjust="spacingAndGlyphs">(The</tspan> <tspan x="727.2" textLength="85.7" lengthAdjust="spacingAndGlyphs">Processing</tspan> <tspan x="822.2" textLength="38.2" lengthAdjust="spacingAndGlyphs">Hub)</tspan></text>
<path d="M881.1 291.3C884.2 291.2 893.5 291.1 900 290.5C906.5 289.9 914.3 289.5 920.2 288C926.1 286.5 930.7 284.4 935.4 281.6C940.1 278.8 944.2 275.7 948.5 271.4C952.8 267.1 957.1 261.3 961.2 256C965.4 250.7 968.9 245.5 973.4 239.8C977.9 234.1 985.6 225 988 222L974.9 216.9L1013.7 204L1002.2 244.2L996.5 229.8C994.7 231.7 989.1 237.2 985.8 241C982.4 244.8 979.9 248.1 976.4 252.8C972.9 257.5 968.4 264 964.8 269C961.2 274 958.5 278.4 954.6 282.8C950.7 287.2 946.2 291.8 941.4 295.2C936.6 298.6 931.8 301.1 925.7 303C919.6 304.9 912 305.7 905 306.5C898 307.3 887.5 307.8 884 308Z" fill="url(#hArr)" stroke="#1c1c1c" stroke-width="2.3" stroke-linejoin="round" stroke-linecap="round"/>
<path d="M881.1 291.3C884.2 291.2 893.5 291.1 900 290.5C906.5 289.9 914.3 289.5 920.2 288C926.1 286.5 930.7 284.4 935.4 281.6C940.1 278.8 944.2 275.7 948.5 271.4C952.8 267.1 957.1 261.3 961.2 256C965.4 250.7 968.9 245.5 973.4 239.8C977.9 234.1 985.6 225 988 222L974.9 216.9L1013.7 204L1002.2 244.2L996.5 229.8C994.7 231.7 989.1 237.2 985.8 241C982.4 244.8 979.9 248.1 976.4 252.8C972.9 257.5 968.4 264 964.8 269C961.2 274 958.5 278.4 954.6 282.8C950.7 287.2 946.2 291.8 941.4 295.2C936.6 298.6 931.8 301.1 925.7 303C919.6 304.9 912 305.7 905 306.5C898 307.3 887.5 307.8 884 308Z" fill="none" stroke="#333" stroke-width="0.9" opacity="0.55" transform="translate(0.9 1.1)" stroke-linejoin="round"/>
<path d="M885.5 320.6C889.9 320.6 903 320.7 912 320.3C921 319.9 931.3 319.6 939.3 318C947.3 316.4 953.1 313.4 960 310.5C966.9 307.6 974.1 303.3 980.4 300.3C986.7 297.3 992.1 295 998 292.5C1003.9 290 1012.9 286.4 1015.9 285.2L1009 273.5L1048.7 282.5L1021.4 312.6L1020 300.3C1016.8 301.5 1007.1 305 1001 307.5C994.9 310 989.3 312.3 983.1 315.3C976.9 318.3 970.4 322.6 964 325.5C957.6 328.4 953 331.3 944.8 333C936.6 334.7 924.8 335.3 915 335.8C905.2 336.3 891.1 335.8 886.3 335.8Z" fill="url(#hArr)" stroke="#1c1c1c" stroke-width="2.3" stroke-linejoin="round" stroke-linecap="round"/>
<path d="M885.5 320.6C889.9 320.6 903 320.7 912 320.3C921 319.9 931.3 319.6 939.3 318C947.3 316.4 953.1 313.4 960 310.5C966.9 307.6 974.1 303.3 980.4 300.3C986.7 297.3 992.1 295 998 292.5C1003.9 290 1012.9 286.4 1015.9 285.2L1009 273.5L1048.7 282.5L1021.4 312.6L1020 300.3C1016.8 301.5 1007.1 305 1001 307.5C994.9 310 989.3 312.3 983.1 315.3C976.9 318.3 970.4 322.6 964 325.5C957.6 328.4 953 331.3 944.8 333C936.6 334.7 924.8 335.3 915 335.8C905.2 336.3 891.1 335.8 886.3 335.8Z" fill="none" stroke="#333" stroke-width="0.9" opacity="0.55" transform="translate(0.9 1.1)" stroke-linejoin="round"/>
<path d="M886.3 347C897.8 346.9 932 346.5 955 346.3C978 346.1 1013 345.8 1024.6 345.7L1022.8 334.2L1057.2 353L1023.4 374.4L1024.6 361.6C1013 361.8 978 362.6 955 363C932 363.4 897.8 363.8 886.3 364Z" fill="url(#hArr)" stroke="#1c1c1c" stroke-width="2.3" stroke-linejoin="round" stroke-linecap="round"/>
<path d="M886.3 347C897.8 346.9 932 346.5 955 346.3C978 346.1 1013 345.8 1024.6 345.7L1022.8 334.2L1057.2 353L1023.4 374.4L1024.6 361.6C1013 361.8 978 362.6 955 363C932 363.4 897.8 363.8 886.3 364Z" fill="none" stroke="#333" stroke-width="0.9" opacity="0.55" transform="translate(0.9 1.1)" stroke-linejoin="round"/>
<path d="M885.5 374.2C889.6 374.1 901.9 373.5 910 373.6C918.1 373.8 926.7 373.7 933.9 375.1C941.1 376.5 946.6 379.3 953 382C959.4 384.7 965.2 388.4 972.2 391.5C979.2 394.6 987.3 397.8 995 400.8C1002.7 403.8 1014.7 407.9 1018.6 409.3L1022.7 395.6L1048.7 427L1009 436.6L1013.7 425.7C1010.2 424.4 999.9 420.7 993 418C986.1 415.3 978.9 412.5 972.2 409.3C965.5 406.1 959.4 402 953 399C946.6 396 941.1 392.9 933.9 391.5C926.7 390.1 918.1 390.6 910 390.4C901.9 390.2 889.6 390.5 885.5 390.5Z" fill="url(#hArr)" stroke="#1c1c1c" stroke-width="2.3" stroke-linejoin="round" stroke-linecap="round"/>
<path d="M885.5 374.2C889.6 374.1 901.9 373.5 910 373.6C918.1 373.8 926.7 373.7 933.9 375.1C941.1 376.5 946.6 379.3 953 382C959.4 384.7 965.2 388.4 972.2 391.5C979.2 394.6 987.3 397.8 995 400.8C1002.7 403.8 1014.7 407.9 1018.6 409.3L1022.7 395.6L1048.7 427L1009 436.6L1013.7 425.7C1010.2 424.4 999.9 420.7 993 418C986.1 415.3 978.9 412.5 972.2 409.3C965.5 406.1 959.4 402 953 399C946.6 396 941.1 392.9 933.9 391.5C926.7 390.1 918.1 390.6 910 390.4C901.9 390.2 889.6 390.5 885.5 390.5Z" fill="none" stroke="#333" stroke-width="0.9" opacity="0.55" transform="translate(0.9 1.1)" stroke-linejoin="round"/>
<path d="M883 405.6C886.2 405.5 895.8 404.9 902 405C908.2 405.1 914.5 404.8 920.2 406.4C925.9 408 931 410.9 936 414.6C941 418.3 945.3 423.3 950.3 428.4C955.3 433.5 960.5 439.5 966 445C971.5 450.5 978.4 457.2 983.1 461.2C987.8 465.2 990.4 466.7 994 469C997.6 471.3 1003.2 473.9 1005 474.9L1009 464L1024.1 503.6L983.6 495.4L996.2 488.6C993.7 487 985.9 482.6 981 479C976.1 475.4 971.5 471.5 966.7 466.7C961.9 461.9 956.6 455.2 952 450C947.4 444.8 943.1 438.9 939.3 435.2C935.5 431.5 932.6 429.8 929 428C925.4 426.2 922.3 425.1 917.5 424.3C912.7 423.5 906.1 423.3 900 423C893.9 422.7 884.2 422.7 881 422.6Z" fill="url(#hArr)" stroke="#1c1c1c" stroke-width="2.3" stroke-linejoin="round" stroke-linecap="round"/>
<path d="M883 405.6C886.2 405.5 895.8 404.9 902 405C908.2 405.1 914.5 404.8 920.2 406.4C925.9 408 931 410.9 936 414.6C941 418.3 945.3 423.3 950.3 428.4C955.3 433.5 960.5 439.5 966 445C971.5 450.5 978.4 457.2 983.1 461.2C987.8 465.2 990.4 466.7 994 469C997.6 471.3 1003.2 473.9 1005 474.9L1009 464L1024.1 503.6L983.6 495.4L996.2 488.6C993.7 487 985.9 482.6 981 479C976.1 475.4 971.5 471.5 966.7 466.7C961.9 461.9 956.6 455.2 952 450C947.4 444.8 943.1 438.9 939.3 435.2C935.5 431.5 932.6 429.8 929 428C925.4 426.2 922.3 425.1 917.5 424.3C912.7 423.5 906.1 423.3 900 423C893.9 422.7 884.2 422.7 881 422.6Z" fill="none" stroke="#333" stroke-width="0.9" opacity="0.55" transform="translate(0.9 1.1)" stroke-linejoin="round"/>
<path d="M1033.6 171.7C1031.5 170 1024.8 165.3 1021.3 161.6C1017.8 157.9 1013.3 153.4 1012.4 149.3C1011.5 145.2 1013.8 140.2 1015.7 137C1017.6 133.8 1018.6 132.9 1023.6 130.3C1028.6 127.7 1038.8 123.3 1045.9 121.3C1053 119.2 1060.3 118.2 1066.1 118C1071.9 117.8 1078.2 119.8 1080.6 120.2L1080.6 120.2C1082.3 118.5 1085.7 113.4 1090.7 110.1C1095.7 106.8 1103.7 102.1 1110.8 100.1C1117.9 98 1125.8 97.4 1133.2 97.8C1140.7 98.2 1149.5 99.9 1155.5 102.3C1161.5 104.7 1166 109.8 1169 112.4C1172 115 1172.7 117.1 1173.4 118L1173.4 118C1176.4 116.9 1184.6 112.2 1191.3 111.3C1198 110.4 1206.6 110.9 1213.7 112.4C1220.8 113.9 1228.6 116.5 1233.8 120.2C1239 123.9 1243.3 129.7 1245 134.7C1246.7 139.7 1245.4 145.9 1243.9 150.4C1242.4 154.9 1237.3 159.7 1236 161.6L1236 161.6C1237.9 162.7 1244.1 164.6 1247.3 168.3C1250.5 172 1254.7 179.2 1255.1 184C1255.5 188.8 1253.4 193.7 1249.5 197.4C1245.6 201.1 1237.6 204.6 1231.6 206.3C1225.6 208 1219.5 207 1213.7 207.4C1207.9 207.8 1199.8 208.4 1197 208.6L1197 208.6C1195.3 210.1 1192.3 214.5 1186.9 217.5C1181.5 220.5 1172.7 224.4 1164.5 226.5C1156.3 228.6 1146.5 229.8 1137.6 229.8C1128.6 229.8 1118.6 228.6 1110.8 226.5C1103 224.4 1095.4 220.1 1090.7 217.5C1086 214.9 1084.1 211.9 1082.8 210.8L1082.8 210.8C1080.4 211.6 1073.3 214.4 1068.3 215.3C1063.3 216.2 1058.2 217.3 1052.6 216.4C1047 215.5 1039.5 212.9 1034.7 209.7C1029.9 206.5 1025.3 201.7 1023.6 197.4C1021.9 193.1 1023 188.3 1024.7 184C1026.4 179.7 1032.1 173.8 1033.6 171.7Z" fill="url(#hSig)" stroke="#1c1c1c" stroke-width="2.3" stroke-linejoin="round" stroke-linecap="round"/>
<path d="M1033.6 171.7C1031.5 170 1024.8 165.3 1021.3 161.6C1017.8 157.9 1013.3 153.4 1012.4 149.3C1011.5 145.2 1013.8 140.2 1015.7 137C1017.6 133.8 1018.6 132.9 1023.6 130.3C1028.6 127.7 1038.8 123.3 1045.9 121.3C1053 119.2 1060.3 118.2 1066.1 118C1071.9 117.8 1078.2 119.8 1080.6 120.2L1080.6 120.2C1082.3 118.5 1085.7 113.4 1090.7 110.1C1095.7 106.8 1103.7 102.1 1110.8 100.1C1117.9 98 1125.8 97.4 1133.2 97.8C1140.7 98.2 1149.5 99.9 1155.5 102.3C1161.5 104.7 1166 109.8 1169 112.4C1172 115 1172.7 117.1 1173.4 118L1173.4 118C1176.4 116.9 1184.6 112.2 1191.3 111.3C1198 110.4 1206.6 110.9 1213.7 112.4C1220.8 113.9 1228.6 116.5 1233.8 120.2C1239 123.9 1243.3 129.7 1245 134.7C1246.7 139.7 1245.4 145.9 1243.9 150.4C1242.4 154.9 1237.3 159.7 1236 161.6L1236 161.6C1237.9 162.7 1244.1 164.6 1247.3 168.3C1250.5 172 1254.7 179.2 1255.1 184C1255.5 188.8 1253.4 193.7 1249.5 197.4C1245.6 201.1 1237.6 204.6 1231.6 206.3C1225.6 208 1219.5 207 1213.7 207.4C1207.9 207.8 1199.8 208.4 1197 208.6L1197 208.6C1195.3 210.1 1192.3 214.5 1186.9 217.5C1181.5 220.5 1172.7 224.4 1164.5 226.5C1156.3 228.6 1146.5 229.8 1137.6 229.8C1128.6 229.8 1118.6 228.6 1110.8 226.5C1103 224.4 1095.4 220.1 1090.7 217.5C1086 214.9 1084.1 211.9 1082.8 210.8L1082.8 210.8C1080.4 211.6 1073.3 214.4 1068.3 215.3C1063.3 216.2 1058.2 217.3 1052.6 216.4C1047 215.5 1039.5 212.9 1034.7 209.7C1029.9 206.5 1025.3 201.7 1023.6 197.4C1021.9 193.1 1023 188.3 1024.7 184C1026.4 179.7 1032.1 173.8 1033.6 171.7Z" fill="none" stroke="#333" stroke-width="0.8" opacity="0.5" transform="translate(0.8 1.1)" stroke-linejoin="round"/>
<text x="1081.3" y="168.3" font-size="30" font-weight="normal" textLength="102.2" lengthAdjust="spacingAndGlyphs" fill="#1c1c1c" stroke="#1c1c1c" stroke-width="1.5">SigNoz</text>
<text y="194" font-size="17.5" font-weight="normal" fill="#1c1c1c" stroke="#1c1c1c" stroke-width="0.95"><tspan x="1035.9" textLength="110.7" lengthAdjust="spacingAndGlyphs">(OTel-Native</tspan> <tspan x="1156.7" textLength="72.2" lengthAdjust="spacingAndGlyphs">Backend)</tspan></text>
<path d="M1069.5 279.8C1068.2 278.8 1063.6 276 1061.9 273.7C1060.2 271.4 1058.9 268.7 1059.2 266.1C1059.5 263.6 1061 260.4 1064 258.4C1067 256.4 1072.6 254.9 1077.2 254C1081.8 253.1 1089 253.2 1091.4 253L1091.4 253C1092.3 251.7 1093.2 247.2 1096.8 245.3C1100.4 243.4 1108.1 241.6 1113.2 241.4C1118.3 241.2 1123.9 242.4 1127.4 244.2C1130.9 245.9 1132.9 250.6 1134 251.9L1134 251.9C1135.8 251.5 1140.9 249.2 1144.9 249.7C1148.9 250.2 1154.7 252.5 1158 255.1C1161.3 257.6 1163.7 262.1 1164.6 265C1165.5 267.9 1163.7 271.3 1163.5 272.6L1163.5 272.6C1164.6 273.9 1169.2 277.4 1170.1 280.3C1171 283.2 1171 287.4 1169 290.1C1167 292.8 1162 295.2 1158 296.7C1154 298.2 1148.7 298.2 1144.9 298.9C1141.1 299.6 1136.7 300.6 1135.1 301L1135.1 301C1133.8 301.9 1130.5 305.3 1127.4 306.5C1124.3 307.7 1120.1 308.5 1116.5 308.3C1112.9 308.1 1108.5 306.8 1105.6 305.4C1102.7 304 1100.1 300.9 1099 300L1099 300C1096.5 300.2 1088.4 301.4 1083.7 301C1079 300.6 1074 299.8 1070.6 297.8C1067.1 295.8 1063.2 292 1063 289C1062.8 286 1068.4 281.3 1069.5 279.8Z" fill="url(#hCloud)" stroke="#1c1c1c" stroke-width="2.0" stroke-linejoin="round" stroke-linecap="round"/>
<path d="M1069.5 279.8C1068.2 278.8 1063.6 276 1061.9 273.7C1060.2 271.4 1058.9 268.7 1059.2 266.1C1059.5 263.6 1061 260.4 1064 258.4C1067 256.4 1072.6 254.9 1077.2 254C1081.8 253.1 1089 253.2 1091.4 253L1091.4 253C1092.3 251.7 1093.2 247.2 1096.8 245.3C1100.4 243.4 1108.1 241.6 1113.2 241.4C1118.3 241.2 1123.9 242.4 1127.4 244.2C1130.9 245.9 1132.9 250.6 1134 251.9L1134 251.9C1135.8 251.5 1140.9 249.2 1144.9 249.7C1148.9 250.2 1154.7 252.5 1158 255.1C1161.3 257.6 1163.7 262.1 1164.6 265C1165.5 267.9 1163.7 271.3 1163.5 272.6L1163.5 272.6C1164.6 273.9 1169.2 277.4 1170.1 280.3C1171 283.2 1171 287.4 1169 290.1C1167 292.8 1162 295.2 1158 296.7C1154 298.2 1148.7 298.2 1144.9 298.9C1141.1 299.6 1136.7 300.6 1135.1 301L1135.1 301C1133.8 301.9 1130.5 305.3 1127.4 306.5C1124.3 307.7 1120.1 308.5 1116.5 308.3C1112.9 308.1 1108.5 306.8 1105.6 305.4C1102.7 304 1100.1 300.9 1099 300L1099 300C1096.5 300.2 1088.4 301.4 1083.7 301C1079 300.6 1074 299.8 1070.6 297.8C1067.1 295.8 1063.2 292 1063 289C1062.8 286 1068.4 281.3 1069.5 279.8Z" fill="none" stroke="#333" stroke-width="0.8" opacity="0.5" transform="translate(0.8 1.1)" stroke-linejoin="round"/>
<text x="1078.3" y="282.8" font-size="19.5" font-weight="normal" textLength="70.1" lengthAdjust="spacingAndGlyphs" fill="#1c1c1c" stroke="#1c1c1c" stroke-width="0.95">Grafana</text>
<path d="M1078.9 356.3C1077.5 355.5 1072.5 353.4 1070.6 351.3C1068.7 349.2 1066.9 346.4 1067.3 343.7C1067.7 341 1069.7 337.3 1072.8 334.9C1075.9 332.5 1081.2 330.9 1085.9 329.5C1090.6 328.1 1098.7 326.8 1101.2 326.2L1101.2 326.2C1102.3 325.3 1104.5 322 1107.8 320.7C1111.1 319.4 1116.5 318.3 1120.9 318.5C1125.3 318.7 1130.9 320.5 1134 321.8C1137.1 323.1 1138.6 325.5 1139.5 326.2L1139.5 326.2C1141.9 326.2 1148.8 325.3 1153.7 326.2C1158.6 327.1 1165.4 329.1 1169 331.6C1172.6 334.2 1175.3 338.5 1175.5 341.5C1175.7 344.5 1170.9 348.4 1170 349.8L1170 349.8C1171.5 351.1 1177.7 354.9 1178.8 357.9C1179.9 360.9 1179 365 1176.6 367.7C1174.2 370.4 1169.1 372.9 1164.6 374.2C1160 375.5 1151.8 375.2 1149.3 375.4L1149.3 375.4C1147.5 376.4 1142.4 380 1138.4 381.6C1134.4 383.2 1129.2 384.7 1125.2 384.9C1121.2 385.1 1117.2 383.8 1114.3 382.7C1111.4 381.6 1108.9 379.3 1107.8 378.6L1107.8 378.6C1105.6 378.9 1099 380.9 1094.6 380.5C1090.2 380.1 1085 378.6 1081.5 376.2C1078 373.8 1074.3 369.6 1073.9 366.3C1073.5 363 1078.1 358 1078.9 356.3Z" fill="url(#hCloud)" stroke="#1c1c1c" stroke-width="2.0" stroke-linejoin="round" stroke-linecap="round"/>
<path d="M1078.9 356.3C1077.5 355.5 1072.5 353.4 1070.6 351.3C1068.7 349.2 1066.9 346.4 1067.3 343.7C1067.7 341 1069.7 337.3 1072.8 334.9C1075.9 332.5 1081.2 330.9 1085.9 329.5C1090.6 328.1 1098.7 326.8 1101.2 326.2L1101.2 326.2C1102.3 325.3 1104.5 322 1107.8 320.7C1111.1 319.4 1116.5 318.3 1120.9 318.5C1125.3 318.7 1130.9 320.5 1134 321.8C1137.1 323.1 1138.6 325.5 1139.5 326.2L1139.5 326.2C1141.9 326.2 1148.8 325.3 1153.7 326.2C1158.6 327.1 1165.4 329.1 1169 331.6C1172.6 334.2 1175.3 338.5 1175.5 341.5C1175.7 344.5 1170.9 348.4 1170 349.8L1170 349.8C1171.5 351.1 1177.7 354.9 1178.8 357.9C1179.9 360.9 1179 365 1176.6 367.7C1174.2 370.4 1169.1 372.9 1164.6 374.2C1160 375.5 1151.8 375.2 1149.3 375.4L1149.3 375.4C1147.5 376.4 1142.4 380 1138.4 381.6C1134.4 383.2 1129.2 384.7 1125.2 384.9C1121.2 385.1 1117.2 383.8 1114.3 382.7C1111.4 381.6 1108.9 379.3 1107.8 378.6L1107.8 378.6C1105.6 378.9 1099 380.9 1094.6 380.5C1090.2 380.1 1085 378.6 1081.5 376.2C1078 373.8 1074.3 369.6 1073.9 366.3C1073.5 363 1078.1 358 1078.9 356.3Z" fill="none" stroke="#333" stroke-width="0.8" opacity="0.5" transform="translate(0.8 1.1)" stroke-linejoin="round"/>
<text x="1088" y="359.4" font-size="19.5" font-weight="normal" textLength="71.2" lengthAdjust="spacingAndGlyphs" fill="#1c1c1c" stroke="#1c1c1c" stroke-width="0.95">Datadog</text>
<path d="M1067.2 434.9C1065.7 433.9 1059.9 431.4 1057.9 429.1C1056 426.8 1054.5 423.9 1055.5 421C1056.5 418.1 1059.4 414 1063.7 411.7C1068 409.4 1075.5 408.1 1081.1 407.1C1086.7 406.1 1094.6 406.1 1097.3 405.9L1097.3 405.9C1098.8 404.5 1102.3 399.6 1106.6 397.8C1110.9 396.1 1117.9 395.2 1122.9 395.4C1127.9 395.6 1133.3 397.3 1136.8 398.9C1140.3 400.4 1142.6 403.7 1143.8 404.7L1143.8 404.7C1146.5 404.7 1154.6 403.7 1160 404.7C1165.4 405.7 1172.2 408 1176.3 410.5C1180.4 413 1183.2 416.9 1184.4 419.8C1185.6 422.7 1183.5 426.6 1183.3 428L1183.3 428C1184.5 429.7 1189.8 434.9 1190.2 438.4C1190.6 441.9 1188.7 446.2 1185.6 448.9C1182.5 451.6 1176.5 453.5 1171.7 454.7C1166.9 455.9 1159.1 455.6 1156.6 455.8L1156.6 455.8C1153.7 456.8 1144.8 460.3 1139.2 461.6C1133.6 462.9 1127.6 463.6 1122.9 463.5C1118.2 463.4 1114 462.3 1111.3 461.2C1108.6 460.1 1107.4 457.7 1106.6 457L1106.6 457C1103.9 457.6 1096.2 460.5 1090.4 460.5C1084.6 460.5 1076.8 459.3 1071.8 457C1066.8 454.7 1061 450.2 1060.2 446.5C1059.4 442.8 1066 436.8 1067.2 434.9Z" fill="url(#hCloud)" stroke="#1c1c1c" stroke-width="2.0" stroke-linejoin="round" stroke-linecap="round"/>
<path d="M1067.2 434.9C1065.7 433.9 1059.9 431.4 1057.9 429.1C1056 426.8 1054.5 423.9 1055.5 421C1056.5 418.1 1059.4 414 1063.7 411.7C1068 409.4 1075.5 408.1 1081.1 407.1C1086.7 406.1 1094.6 406.1 1097.3 405.9L1097.3 405.9C1098.8 404.5 1102.3 399.6 1106.6 397.8C1110.9 396.1 1117.9 395.2 1122.9 395.4C1127.9 395.6 1133.3 397.3 1136.8 398.9C1140.3 400.4 1142.6 403.7 1143.8 404.7L1143.8 404.7C1146.5 404.7 1154.6 403.7 1160 404.7C1165.4 405.7 1172.2 408 1176.3 410.5C1180.4 413 1183.2 416.9 1184.4 419.8C1185.6 422.7 1183.5 426.6 1183.3 428L1183.3 428C1184.5 429.7 1189.8 434.9 1190.2 438.4C1190.6 441.9 1188.7 446.2 1185.6 448.9C1182.5 451.6 1176.5 453.5 1171.7 454.7C1166.9 455.9 1159.1 455.6 1156.6 455.8L1156.6 455.8C1153.7 456.8 1144.8 460.3 1139.2 461.6C1133.6 462.9 1127.6 463.6 1122.9 463.5C1118.2 463.4 1114 462.3 1111.3 461.2C1108.6 460.1 1107.4 457.7 1106.6 457L1106.6 457C1103.9 457.6 1096.2 460.5 1090.4 460.5C1084.6 460.5 1076.8 459.3 1071.8 457C1066.8 454.7 1061 450.2 1060.2 446.5C1059.4 442.8 1066 436.8 1067.2 434.9Z" fill="none" stroke="#333" stroke-width="0.8" opacity="0.5" transform="translate(0.8 1.1)" stroke-linejoin="round"/>
<text x="1072" y="436.8" font-size="18.5" font-weight="normal" textLength="100" lengthAdjust="spacingAndGlyphs" fill="#1c1c1c" stroke="#1c1c1c" stroke-width="0.95">Prometheus</text>
<path d="M1053.2 512.7C1051.8 511.7 1046.8 509.2 1045.1 506.9C1043.4 504.6 1042 501.5 1042.8 498.8C1043.6 496.1 1046 492.8 1049.7 490.7C1053.4 488.6 1059.8 487 1064.8 486C1069.8 485 1077.4 485.1 1079.9 484.9L1079.9 484.9C1080.9 483.7 1082.6 479.5 1085.7 477.9C1088.8 476.3 1094.2 475.1 1098.5 475.1C1102.8 475.1 1108.2 476.3 1111.3 477.9C1114.4 479.4 1116.1 483.3 1117.1 484.4L1117.1 484.4C1119.6 484.3 1127.4 482.8 1132.2 483.7C1137 484.6 1142.8 487 1146.1 489.5C1149.4 492 1151.1 496.1 1151.9 498.8C1152.7 501.5 1151 504.6 1150.8 505.8L1150.8 505.8C1151.9 507.5 1156.7 512.7 1157.3 516.2C1157.9 519.7 1156.8 524 1154.2 526.7C1151.6 529.4 1146.1 531.1 1141.5 532.5C1136.9 533.9 1128.9 534.4 1126.4 534.8L1126.4 534.8C1124.7 535.7 1119.6 539 1115.9 540.1C1112.2 541.2 1108.2 541.2 1104.3 541.1C1100.4 541 1096.2 540.5 1092.7 539.4C1089.2 538.3 1085 535.6 1083.4 534.8L1083.4 534.8C1081.1 534.8 1074.5 535.8 1069.5 534.8C1064.5 533.8 1057.1 531.3 1053.2 529C1049.3 526.7 1046.3 523.6 1046.3 520.9C1046.3 518.2 1052 514.1 1053.2 512.7Z" fill="url(#hCloud)" stroke="#1c1c1c" stroke-width="2.0" stroke-linejoin="round" stroke-linecap="round"/>
<path d="M1053.2 512.7C1051.8 511.7 1046.8 509.2 1045.1 506.9C1043.4 504.6 1042 501.5 1042.8 498.8C1043.6 496.1 1046 492.8 1049.7 490.7C1053.4 488.6 1059.8 487 1064.8 486C1069.8 485 1077.4 485.1 1079.9 484.9L1079.9 484.9C1080.9 483.7 1082.6 479.5 1085.7 477.9C1088.8 476.3 1094.2 475.1 1098.5 475.1C1102.8 475.1 1108.2 476.3 1111.3 477.9C1114.4 479.4 1116.1 483.3 1117.1 484.4L1117.1 484.4C1119.6 484.3 1127.4 482.8 1132.2 483.7C1137 484.6 1142.8 487 1146.1 489.5C1149.4 492 1151.1 496.1 1151.9 498.8C1152.7 501.5 1151 504.6 1150.8 505.8L1150.8 505.8C1151.9 507.5 1156.7 512.7 1157.3 516.2C1157.9 519.7 1156.8 524 1154.2 526.7C1151.6 529.4 1146.1 531.1 1141.5 532.5C1136.9 533.9 1128.9 534.4 1126.4 534.8L1126.4 534.8C1124.7 535.7 1119.6 539 1115.9 540.1C1112.2 541.2 1108.2 541.2 1104.3 541.1C1100.4 541 1096.2 540.5 1092.7 539.4C1089.2 538.3 1085 535.6 1083.4 534.8L1083.4 534.8C1081.1 534.8 1074.5 535.8 1069.5 534.8C1064.5 533.8 1057.1 531.3 1053.2 529C1049.3 526.7 1046.3 523.6 1046.3 520.9C1046.3 518.2 1052 514.1 1053.2 512.7Z" fill="none" stroke="#333" stroke-width="0.8" opacity="0.5" transform="translate(0.8 1.1)" stroke-linejoin="round"/>
<text x="1061.4" y="514.9" font-size="19.5" font-weight="normal" textLength="82.4" lengthAdjust="spacingAndGlyphs" fill="#1c1c1c" stroke="#1c1c1c" stroke-width="0.95">Others...</text>
<path d="M1247.7 315.7C1246.9 312.9 1244.8 304.3 1243 299C1241.2 293.7 1239.3 289.2 1237 284C1234.7 278.8 1231.9 273 1229 268C1226.1 263 1221.2 256.3 1219.7 254L1211.6 264.6L1201 226.4L1241.6 239L1229.6 246.6C1231.5 249.2 1237.3 256.3 1241 262C1244.7 267.7 1249 275 1252 281C1255 287 1257 292.2 1259 298C1261 303.8 1263.3 312.8 1264.2 315.7Z" fill="url(#hArr2)" stroke="#1c1c1c" stroke-width="2.3" stroke-linejoin="round" stroke-linecap="round"/>
<path d="M1247.7 315.7C1246.9 312.9 1244.8 304.3 1243 299C1241.2 293.7 1239.3 289.2 1237 284C1234.7 278.8 1231.9 273 1229 268C1226.1 263 1221.2 256.3 1219.7 254L1211.6 264.6L1201 226.4L1241.6 239L1229.6 246.6C1231.5 249.2 1237.3 256.3 1241 262C1244.7 267.7 1249 275 1252 281C1255 287 1257 292.2 1259 298C1261 303.8 1263.3 312.8 1264.2 315.7Z" fill="none" stroke="#333" stroke-width="0.9" opacity="0.55" transform="translate(0.9 1.1)" stroke-linejoin="round"/>
<path d="M1262.4 393.5C1261.7 396.6 1259.8 406.1 1258 412C1256.2 417.9 1254.3 423.2 1251.3 429.2C1248.3 435.2 1244.1 442.1 1240 448C1235.9 453.9 1231 459.7 1226.7 464.8C1222.4 469.9 1218.1 474.2 1214 478.5C1209.9 482.8 1204 488.6 1202 490.6L1212 498L1170.6 506.6L1185.4 467.3L1189.8 479.6C1191.7 477.9 1197.3 473 1201 469.5C1204.7 466 1208.2 462.9 1212 458.7C1215.8 454.4 1220.3 448.9 1224 444C1227.7 439.1 1231 434.7 1234 429.2C1237 423.7 1239.7 416.9 1242 411C1244.3 405.1 1246.7 396.4 1247.6 393.5Z" fill="url(#hArr2)" stroke="#1c1c1c" stroke-width="2.3" stroke-linejoin="round" stroke-linecap="round"/>
<path d="M1262.4 393.5C1261.7 396.6 1259.8 406.1 1258 412C1256.2 417.9 1254.3 423.2 1251.3 429.2C1248.3 435.2 1244.1 442.1 1240 448C1235.9 453.9 1231 459.7 1226.7 464.8C1222.4 469.9 1218.1 474.2 1214 478.5C1209.9 482.8 1204 488.6 1202 490.6L1212 498L1170.6 506.6L1185.4 467.3L1189.8 479.6C1191.7 477.9 1197.3 473 1201 469.5C1204.7 466 1208.2 462.9 1212 458.7C1215.8 454.4 1220.3 448.9 1224 444C1227.7 439.1 1231 434.7 1234 429.2C1237 423.7 1239.7 416.9 1242 411C1244.3 405.1 1246.7 396.4 1247.6 393.5Z" fill="none" stroke="#333" stroke-width="0.9" opacity="0.55" transform="translate(0.9 1.1)" stroke-linejoin="round"/>
<rect x="1244" y="312.6" width="24" height="6" fill="#eeeeee"/>
<rect x="1244" y="390" width="22" height="5.5" fill="#eeeeee"/>
<path d="M1246.6 543C1262 529.6 1273 513 1278.2 495C1282.6 479 1281.8 460 1278.2 444.6L1291.6 440.8L1267.3 414.8L1262.6 448.6L1273.4 445.8C1276.8 461 1277.2 477 1273.6 492.6C1268.6 510 1257.8 526 1243.2 539.2Z" fill="#141414" stroke="#141414" stroke-width="0.8" stroke-linejoin="round" stroke-linecap="round"/>
<path d="M1236.2 340.4C1236 333 1241 328.6 1246.6 329.6C1253 330.8 1256.6 337 1260 343.4C1263.6 350 1267.6 355.6 1274.4 356C1281.6 356.2 1286 350.6 1286.4 342.6" fill="none" stroke="#2c2f33" stroke-width="5.4" stroke-linejoin="round" stroke-linecap="butt"/>
<path d="M1236.2 340.4C1236 333 1241 328.6 1246.6 329.6C1253 330.8 1256.6 337 1260 343.4C1263.6 350 1267.6 355.6 1274.4 356C1281.6 356.2 1286 350.6 1286.4 342.6" fill="none" stroke="#c0c6cc" stroke-width="2.6" stroke-linejoin="round" stroke-linecap="butt" pathLength="100" stroke-dasharray="97.2 100" stroke-dashoffset="-1.4"/>
<path d="M1264.4 325.6H1275.4V321L1287 328.6L1275.4 336.4V331.6H1264.4Z" fill="#b9c4bc" stroke="#3a4540" stroke-width="1.3" stroke-linejoin="round" stroke-linecap="round"/>
<path d="M1257.4 351.6H1246V347L1234 354.8L1246 362.6V357.8H1257.4Z" fill="#b4c0de" stroke="#39415a" stroke-width="1.3" stroke-linejoin="round" stroke-linecap="round"/>
<text x="1225" y="387.2" font-size="22.5" font-weight="normal" textLength="70.7" lengthAdjust="spacingAndGlyphs" fill="#1c1c1c" stroke="#1c1c1c" stroke-width="1.2">switch</text>
<text x="1008.3" y="579.4" font-size="28" font-weight="normal" textLength="287.2" lengthAdjust="spacingAndGlyphs" fill="#1c1c1c" stroke="#1c1c1c" stroke-width="1.2">VENDOR-AGNOSTIC</text>
<text x="1037.5" y="612.9" font-size="28" font-weight="normal" textLength="228.8" lengthAdjust="spacingAndGlyphs" fill="#1c1c1c" stroke="#1c1c1c" stroke-width="1.2">DESTINATIONS</text>
<text y="636.8" font-size="16.5" font-weight="normal" fill="#1c1c1c" stroke="#1c1c1c" stroke-width="0.7"><tspan x="969" textLength="37.9" lengthAdjust="spacingAndGlyphs">(Plug</tspan> <tspan x="1016.5" textLength="9.9" lengthAdjust="spacingAndGlyphs">&amp;</tspan> <tspan x="1034.5" textLength="33" lengthAdjust="spacingAndGlyphs">Play</tspan> <tspan x="1078.3" textLength="6.4" lengthAdjust="spacingAndGlyphs">-</tspan> <tspan x="1093.4" textLength="55.4" lengthAdjust="spacingAndGlyphs">Switch</tspan> <tspan x="1157.6" textLength="60" lengthAdjust="spacingAndGlyphs">without</tspan> <tspan x="1227.6" textLength="92.1" lengthAdjust="spacingAndGlyphs">re-coding!)</tspan></text>
<path d="M214 656.8H1132.4Q1142.4 656.8 1142.4 666.8V698.3Q1142.4 708.3 1132.4 708.3H214Q204.2 708.3 204.2 698.3V666.8Q204.2 656.8 214 656.8Z" fill="#ebeae0" stroke="#1c1c1c" stroke-width="1.8" stroke-linejoin="round" stroke-linecap="round"/>
<path d="M214 656.8H1132.4Q1142.4 656.8 1142.4 666.8V698.3Q1142.4 708.3 1132.4 708.3H214Q204.2 708.3 204.2 698.3V666.8Q204.2 656.8 214 656.8Z" fill="none" stroke="#333" stroke-width="0.9" opacity="0.5" transform="translate(1.2 -1.6) rotate(0.08 673 682)" stroke-linejoin="round"/>
<path d="M231.8 665.2L236.2 676.7L248.5 677.4L238.9 685.1L242.1 697L231.8 690.3L221.5 697L224.7 685.1L215.1 677.4L227.4 676.7Z" fill="#eedcbd" stroke="#2a241c" stroke-width="1.7" stroke-linejoin="round" stroke-linecap="round"/>
<path d="M1113.8 665.4L1118.2 676.9L1130.5 677.6L1120.9 685.3L1124.1 697.2L1113.8 690.5L1103.5 697.2L1106.7 685.3L1097.1 677.6L1109.4 676.9Z" fill="#eedcbd" stroke="#2a241c" stroke-width="1.7" stroke-linejoin="round" stroke-linecap="round"/>
<text y="690.6" font-size="25.5" font-weight="normal" fill="#1c1c1c" stroke="#1c1c1c" stroke-width="1.1"><tspan x="259" textLength="54" lengthAdjust="spacingAndGlyphs">OTel</tspan> <tspan x="326" textLength="59.8" lengthAdjust="spacingAndGlyphs">Goal:</tspan> <tspan x="397" textLength="102.5" lengthAdjust="spacingAndGlyphs">Decouple</tspan> <tspan x="512.5" textLength="124.9" lengthAdjust="spacingAndGlyphs">Generation</tspan> <tspan x="650" textLength="69" lengthAdjust="spacingAndGlyphs">(Left)</tspan> <tspan x="730.2" textLength="52.2" lengthAdjust="spacingAndGlyphs">from</tspan> <tspan x="797.3" textLength="197.6" lengthAdjust="spacingAndGlyphs">Storage/Analysis</tspan> <tspan x="1008" textLength="78.6" lengthAdjust="spacingAndGlyphs">(Right)</tspan></text>
</svg>
</body></html>
